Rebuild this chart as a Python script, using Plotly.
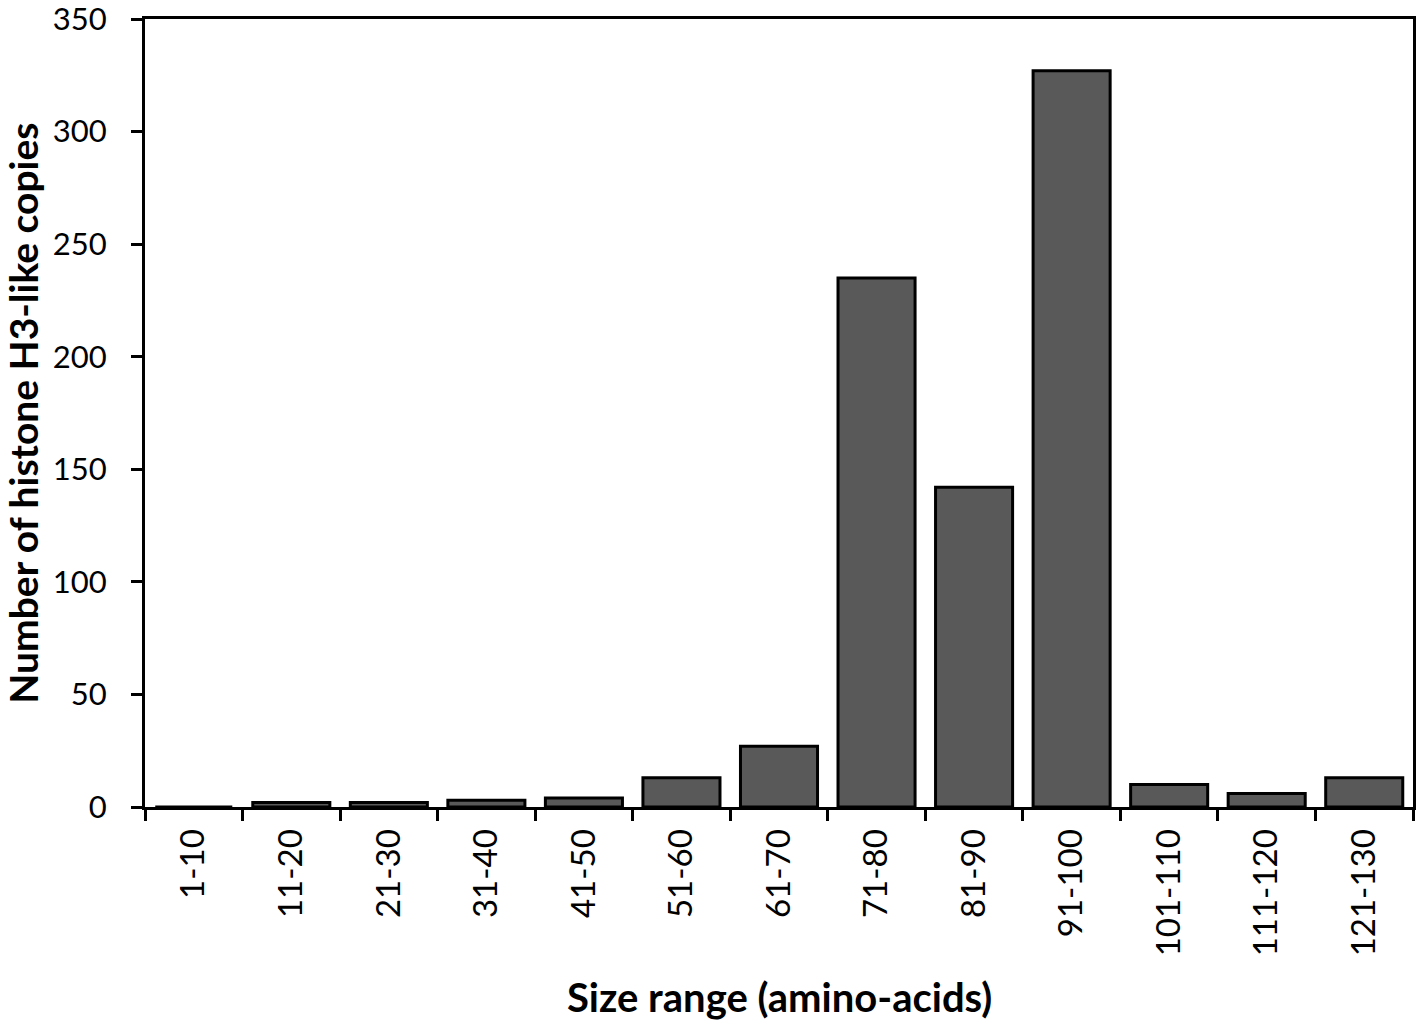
import plotly.graph_objects as go

categories = ["1-10", "11-20", "21-30", "31-40", "41-50", "51-60", "61-70",
              "71-80", "81-90", "91-100", "101-110", "111-120", "121-130"]
counts = [0, 2, 2, 3, 4, 13, 27, 235, 142, 327, 10, 6, 13]
y_ticks = [0, 50, 100, 150, 200, 250, 300, 350]

FONT = "Lato, Carlito, Calibri, 'Open Sans', sans-serif"

fig = go.Figure(go.Bar(
    x=categories, y=counts,
    marker=dict(color="#595959", line=dict(color="black", width=3)),
    width=0.79,
))

fig.update_layout(
    width=1418, height=1021,
    margin=dict(l=145, r=5, t=19, b=214),
    plot_bgcolor="white", paper_bgcolor="white",
    font=dict(family=FONT, color="black"),
    showlegend=False,
    annotations=[
        dict(text="<b>Size range (amino-acids)</b>", xref="paper", yref="paper",
             x=0.5, y=-0.241, xanchor="center", yanchor="middle", showarrow=False,
             font=dict(size=40, family=FONT, color="black")),
        dict(text="<b>Number of histone H3-like copies</b>", xref="paper", yref="paper",
             x=-0.0965, y=0.500, xanchor="center", yanchor="middle", showarrow=False,
             textangle=-90, font=dict(size=39, family=FONT, color="black")),
    ],
)
fig.update_xaxes(
    type="category", automargin=False,
    showline=True, linecolor="black", linewidth=3, mirror=True,
    ticks="outside", tickson="boundaries", ticklen=11, tickwidth=3, tickcolor="black",
    tickangle=-90, tickfont=dict(size=33, family=FONT), ticklabelstandoff=6,
    showgrid=False,
)
fig.update_yaxes(
    range=[0, 350], tickvals=y_ticks, automargin=False,
    showline=True, linecolor="black", linewidth=3, mirror=True,
    ticks="outside", ticklen=11, tickwidth=3, tickcolor="black",
    tickfont=dict(size=31, family=FONT), ticklabelstandoff=18,
    ticklabeloverflow="allow",
    showgrid=False, zeroline=False,
)

fig.write_html(
    "out.html",
    config={"displayModeBar": False},
    post_script="document.body.style.margin='0';document.body.style.overflow='hidden';",
)
